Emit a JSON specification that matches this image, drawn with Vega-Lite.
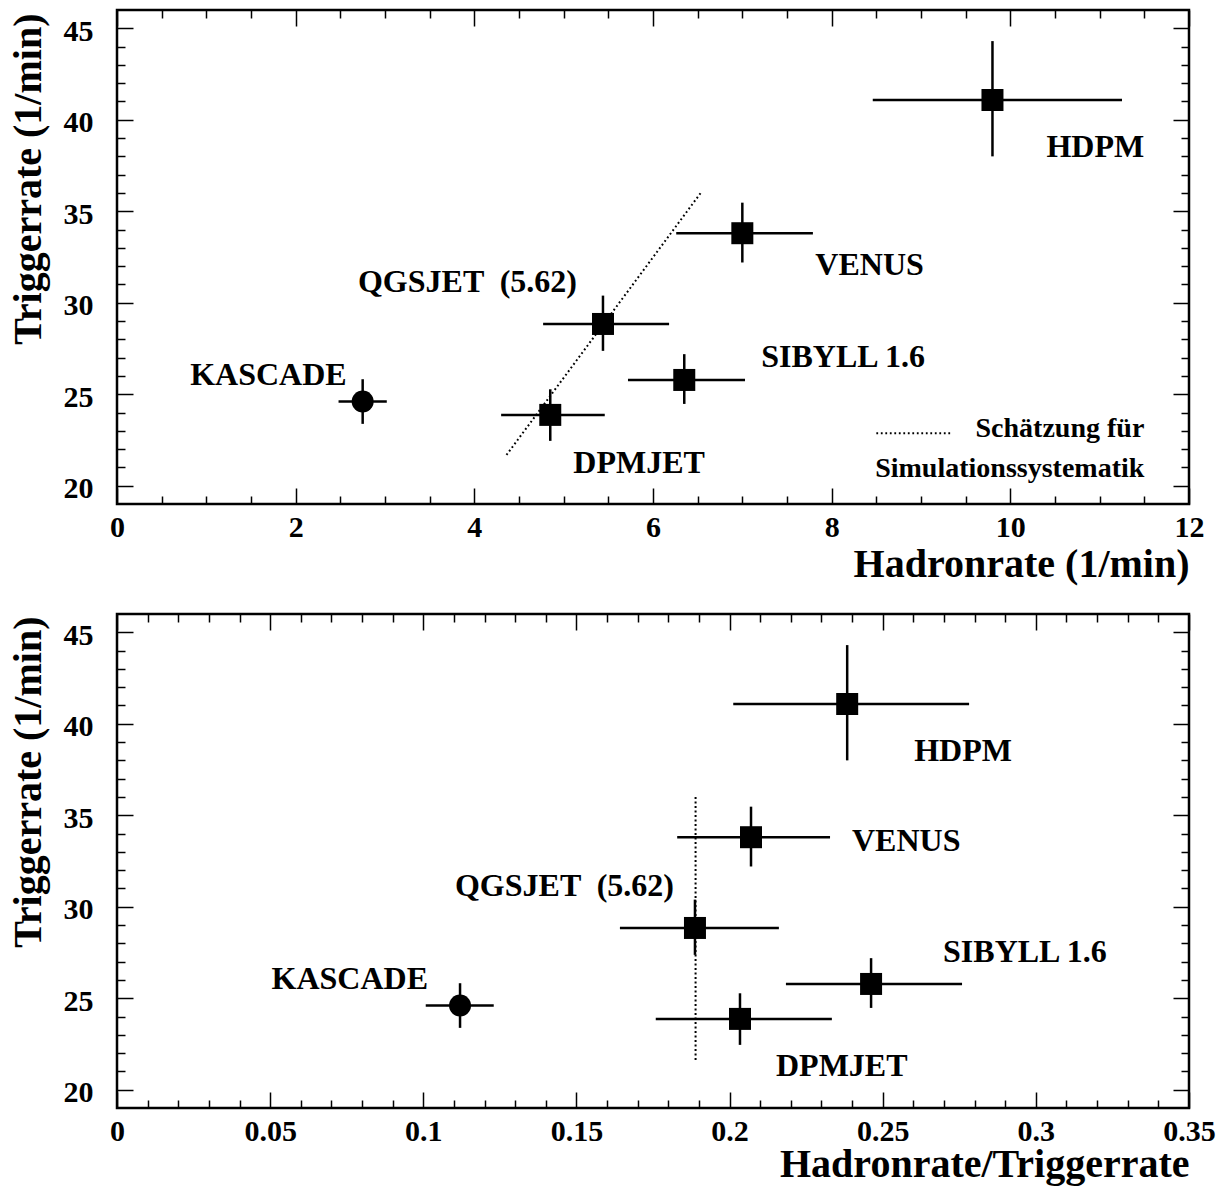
{
  "$schema": "https://vega.github.io/schema/vega-lite/v6.json",
  "padding": {"left": 6, "top": 8, "right": 5, "bottom": 5},
  "bounds": "flush",
  "spacing": 110,
  "datasets": {
    "models": [
      {"model": "KASCADE", "label": "KASCADE", "kind": "circle", "hadron": 2.75, "hadronLo": 2.48, "hadronHi": 3.02, "trigger": 24.6, "triggerLo": 23.38, "triggerHi": 25.82, "ratio": 0.112, "ratioLo": 0.1008, "ratioHi": 0.123},
      {"model": "DPMJET", "label": "DPMJET", "kind": "square", "hadron": 4.85, "hadronLo": 4.3, "hadronHi": 5.46, "trigger": 23.87, "triggerLo": 22.45, "triggerHi": 25.27, "ratio": 0.2034, "ratioLo": 0.1759, "ratioHi": 0.2334},
      {"model": "QGSJET", "label": "QGSJET \u00a0(5.62)", "kind": "square", "hadron": 5.44, "hadronLo": 4.77, "hadronHi": 6.18, "trigger": 28.84, "triggerLo": 27.37, "triggerHi": 30.39, "ratio": 0.1887, "ratioLo": 0.1642, "ratioHi": 0.2161},
      {"model": "SIBYLL", "label": "SIBYLL 1.6", "kind": "square", "hadron": 6.35, "hadronLo": 5.72, "hadronHi": 7.03, "trigger": 25.78, "triggerLo": 24.47, "triggerHi": 27.19, "ratio": 0.2462, "ratioLo": 0.2184, "ratioHi": 0.2759},
      {"model": "VENUS", "label": "VENUS", "kind": "square", "hadron": 7.0, "hadronLo": 6.26, "hadronHi": 7.79, "trigger": 33.8, "triggerLo": 32.2, "triggerHi": 35.47, "ratio": 0.207, "ratioLo": 0.1829, "ratioHi": 0.2328},
      {"model": "HDPM", "label": "HDPM", "kind": "square", "hadron": 9.8, "hadronLo": 8.46, "hadronHi": 11.25, "trigger": 41.08, "triggerLo": 38.0, "triggerHi": 44.3, "ratio": 0.2384, "ratioLo": 0.2012, "ratioHi": 0.2782}
    ],
    "systHadron": [
      {"hadronLo": 4.36, "hadronHi": 6.54, "triggerLo": 21.68, "triggerHi": 36.04}
    ],
    "systRatio": [
      {"ratio": 0.1889, "triggerLo": 21.63, "triggerHi": 36.02}
    ]
  },
  "config": {
    "view": {"stroke": "black", "strokeWidth": 2.5},
    "font": "Liberation Serif",
    "axis": {
      "grid": false,
      "domain": false,
      "labelFont": "Liberation Serif",
      "labelFontWeight": "bold",
      "labelFontSize": 30,
      "labelColor": "black",
      "labelFlush": false,
      "labelOverlap": false,
      "labelBound": false,
      "tickColor": "black",
      "tickWidth": 1.5,
      "titleFont": "Liberation Serif",
      "titleFontWeight": "bold",
      "titleFontSize": 40,
      "titleColor": "black"
    },
    "text": {"font": "Liberation Serif", "fontWeight": "bold", "fontSize": 32, "color": "black"}
  },
  "vconcat": [
    {
      "width": 1072,
      "height": 494,
      "resolve": {"axis": {"x": "independent", "y": "independent"}},
      "layer": [
        {
          "data": {"name": "models"},
          "mark": {"type": "rule", "color": "black", "strokeWidth": 2.5},
          "encoding": {
            "x": {"field": "hadronLo", "type": "quantitative", "scale": {"domain": [0, 12], "nice": false, "zero": false},
              "axis": {"orient": "bottom", "values": [0, 2, 4, 6, 8, 10, 12], "format": "~g", "ticks": false, "labelPadding": 32, "labelBaseline": "alphabetic",
                "title": "Hadronrate (1/min)", "titleX": 1072, "titleY": 72, "titleAlign": "right", "titleBaseline": "alphabetic", "titleAngle": 0}},
            "x2": {"field": "hadronHi"},
            "y": {"field": "trigger", "type": "quantitative", "scale": {"domain": [19, 46], "nice": false, "zero": false},
              "axis": {"orient": "left", "values": [20, 25, 30, 35, 40, 45], "ticks": false, "labelPadding": 24, "labelAlign": "right", "labelBaseline": "middle", "labelOffset": 3,
                "title": "Triggerrate (1/min)", "titleX": -77, "titleY": 3, "titleAngle": -90, "titleAlign": "right", "titleBaseline": "alphabetic"}}
          }
        },
        {
          "data": {"name": "models"},
          "mark": {"type": "rule", "color": "black", "strokeWidth": 2.5},
          "encoding": {
            "x": {"field": "hadron", "type": "quantitative", "scale": {"domain": [0, 12], "nice": false, "zero": false},
              "axis": {"orient": "bottom", "values": [0, 2, 4, 6, 8, 10, 12], "labels": false, "tickSize": -16, "title": null}},
            "y": {"field": "triggerLo", "type": "quantitative", "scale": {"domain": [19, 46], "nice": false, "zero": false},
              "axis": {"orient": "left", "values": [20, 25, 30, 35, 40, 45], "labels": false, "tickSize": -16, "title": null}},
            "y2": {"field": "triggerHi"}
          }
        },
        {
          "data": {"name": "models"},
          "transform": [{"filter": "datum.kind === 'square'"}],
          "mark": {"type": "point", "shape": "square", "filled": true, "size": 484, "color": "black", "opacity": 1},
          "encoding": {
            "x": {"field": "hadron", "type": "quantitative", "scale": {"domain": [0, 12], "nice": false, "zero": false},
              "axis": {"orient": "bottom", "values": [0.5, 1, 1.5, 2.5, 3, 3.5, 4.5, 5, 5.5, 6.5, 7, 7.5, 8.5, 9, 9.5, 10.5, 11, 11.5], "labels": false, "tickSize": -8, "title": null}},
            "y": {"field": "trigger", "type": "quantitative", "scale": {"domain": [19, 46], "nice": false, "zero": false},
              "axis": {"orient": "left", "values": [21, 22, 23, 24, 26, 27, 28, 29, 31, 32, 33, 34, 36, 37, 38, 39, 41, 42, 43, 44], "labels": false, "tickSize": -8, "title": null}}
          }
        },
        {
          "data": {"name": "models"},
          "transform": [{"filter": "datum.kind === 'circle'"}],
          "mark": {"type": "point", "shape": "circle", "filled": true, "size": 484, "color": "black", "opacity": 1},
          "encoding": {
            "x": {"field": "hadron", "type": "quantitative", "scale": {"domain": [0, 12], "nice": false, "zero": false},
              "axis": {"orient": "top", "values": [0, 2, 4, 6, 8, 10, 12], "labels": false, "tickSize": -16, "title": null}},
            "y": {"field": "trigger", "type": "quantitative", "scale": {"domain": [19, 46], "nice": false, "zero": false},
              "axis": {"orient": "right", "values": [20, 25, 30, 35, 40, 45], "labels": false, "tickSize": -16, "title": null}}
          }
        },
        {
          "data": {"name": "systHadron"},
          "mark": {"type": "rule", "color": "black", "strokeWidth": 2, "strokeDash": [1.8, 2.7]},
          "encoding": {
            "x": {"field": "hadronLo", "type": "quantitative", "scale": {"domain": [0, 12], "nice": false, "zero": false},
              "axis": {"orient": "top", "values": [0.5, 1, 1.5, 2.5, 3, 3.5, 4.5, 5, 5.5, 6.5, 7, 7.5, 8.5, 9, 9.5, 10.5, 11, 11.5], "labels": false, "tickSize": -8, "title": null}},
            "x2": {"field": "hadronHi"},
            "y": {"field": "triggerLo", "type": "quantitative", "scale": {"domain": [19, 46], "nice": false, "zero": false},
              "axis": {"orient": "right", "values": [21, 22, 23, 24, 26, 27, 28, 29, 31, 32, 33, 34, 36, 37, 38, 39, 41, 42, 43, 44], "labels": false, "tickSize": -8, "title": null}},
            "y2": {"field": "triggerHi"}
          }
        },
        {
          "data": {"values": [{}]},
          "mark": {"type": "rule", "color": "black", "strokeWidth": 2, "strokeDash": [1.8, 2.7]},
          "encoding": {
            "x": {"datum": 8.5, "type": "quantitative", "scale": {"domain": [0, 12], "nice": false, "zero": false}, "axis": null},
            "x2": {"datum": 9.34},
            "y": {"datum": 22.87, "type": "quantitative", "scale": {"domain": [19, 46], "nice": false, "zero": false}, "axis": null}
          }
        },
        {
          "data": {"values": [{}]},
          "mark": {"type": "text", "align": "right", "baseline": "alphabetic", "fontSize": 28, "lineHeight": 40, "text": ["Schätzung für", "Simulationssystematik"]},
          "encoding": {
            "x": {"datum": 11.5, "type": "quantitative", "scale": {"domain": [0, 12], "nice": false, "zero": false}, "axis": null},
            "y": {"datum": 22.68, "type": "quantitative", "scale": {"domain": [19, 46], "nice": false, "zero": false}, "axis": null}
          }
        },
        {
          "data": {"name": "models"},
          "transform": [{"filter": "datum.model === 'KASCADE'"}],
          "mark": {"type": "text", "align": "right", "baseline": "alphabetic", "dx": -16, "dy": -17},
          "encoding": {
            "x": {"field": "hadron", "type": "quantitative", "scale": {"domain": [0, 12], "nice": false, "zero": false}, "axis": null},
            "y": {"field": "trigger", "type": "quantitative", "scale": {"domain": [19, 46], "nice": false, "zero": false}, "axis": null},
            "text": {"field": "label"}
          }
        },
        {
          "data": {"name": "models"},
          "transform": [{"filter": "datum.model === 'QGSJET'"}],
          "mark": {"type": "text", "align": "left", "baseline": "alphabetic", "dx": -245, "dy": -32},
          "encoding": {
            "x": {"field": "hadron", "type": "quantitative", "scale": {"domain": [0, 12], "nice": false, "zero": false}, "axis": null},
            "y": {"field": "trigger", "type": "quantitative", "scale": {"domain": [19, 46], "nice": false, "zero": false}, "axis": null},
            "text": {"field": "label"}
          }
        },
        {
          "data": {"name": "models"},
          "transform": [{"filter": "datum.model === 'DPMJET'"}],
          "mark": {"type": "text", "align": "left", "baseline": "alphabetic", "dx": 23, "dy": 58},
          "encoding": {
            "x": {"field": "hadron", "type": "quantitative", "scale": {"domain": [0, 12], "nice": false, "zero": false}, "axis": null},
            "y": {"field": "trigger", "type": "quantitative", "scale": {"domain": [19, 46], "nice": false, "zero": false}, "axis": null},
            "text": {"field": "label"}
          }
        },
        {
          "data": {"name": "models"},
          "transform": [{"filter": "datum.model === 'SIBYLL'"}],
          "mark": {"type": "text", "align": "left", "baseline": "alphabetic", "dx": 77, "dy": -13},
          "encoding": {
            "x": {"field": "hadron", "type": "quantitative", "scale": {"domain": [0, 12], "nice": false, "zero": false}, "axis": null},
            "y": {"field": "trigger", "type": "quantitative", "scale": {"domain": [19, 46], "nice": false, "zero": false}, "axis": null},
            "text": {"field": "label"}
          }
        },
        {
          "data": {"name": "models"},
          "transform": [{"filter": "datum.model === 'VENUS'"}],
          "mark": {"type": "text", "align": "left", "baseline": "alphabetic", "dx": 73, "dy": 42},
          "encoding": {
            "x": {"field": "hadron", "type": "quantitative", "scale": {"domain": [0, 12], "nice": false, "zero": false}, "axis": null},
            "y": {"field": "trigger", "type": "quantitative", "scale": {"domain": [19, 46], "nice": false, "zero": false}, "axis": null},
            "text": {"field": "label"}
          }
        },
        {
          "data": {"name": "models"},
          "transform": [{"filter": "datum.model === 'HDPM'"}],
          "mark": {"type": "text", "align": "left", "baseline": "alphabetic", "dx": 54, "dy": 57},
          "encoding": {
            "x": {"field": "hadron", "type": "quantitative", "scale": {"domain": [0, 12], "nice": false, "zero": false}, "axis": null},
            "y": {"field": "trigger", "type": "quantitative", "scale": {"domain": [19, 46], "nice": false, "zero": false}, "axis": null},
            "text": {"field": "label"}
          }
        }
      ]
    },
    {
      "width": 1072,
      "height": 494,
      "resolve": {"axis": {"x": "independent", "y": "independent"}},
      "layer": [
        {
          "data": {"name": "models"},
          "mark": {"type": "rule", "color": "black", "strokeWidth": 2.5},
          "encoding": {
            "x": {"field": "ratioLo", "type": "quantitative", "scale": {"domain": [0, 0.35], "nice": false, "zero": false},
              "axis": {"orient": "bottom", "values": [0, 0.05, 0.1, 0.15, 0.2, 0.25, 0.3, 0.35], "format": "~g", "ticks": false, "labelPadding": 32, "labelBaseline": "alphabetic",
                "title": "Hadronrate/Triggerrate", "titleX": 1072, "titleY": 68, "titleAlign": "right", "titleBaseline": "alphabetic", "titleAngle": 0}},
            "x2": {"field": "ratioHi"},
            "y": {"field": "trigger", "type": "quantitative", "scale": {"domain": [19, 46], "nice": false, "zero": false},
              "axis": {"orient": "left", "values": [20, 25, 30, 35, 40, 45], "ticks": false, "labelPadding": 24, "labelAlign": "right", "labelBaseline": "middle", "labelOffset": 3,
                "title": "Triggerrate (1/min)", "titleX": -77, "titleY": 2, "titleAngle": -90, "titleAlign": "right", "titleBaseline": "alphabetic"}}
          }
        },
        {
          "data": {"name": "models"},
          "mark": {"type": "rule", "color": "black", "strokeWidth": 2.5},
          "encoding": {
            "x": {"field": "ratio", "type": "quantitative", "scale": {"domain": [0, 0.35], "nice": false, "zero": false},
              "axis": {"orient": "bottom", "values": [0, 0.05, 0.1, 0.15, 0.2, 0.25, 0.3, 0.35], "labels": false, "tickSize": -16, "title": null}},
            "y": {"field": "triggerLo", "type": "quantitative", "scale": {"domain": [19, 46], "nice": false, "zero": false},
              "axis": {"orient": "left", "values": [20, 25, 30, 35, 40, 45], "labels": false, "tickSize": -16, "title": null}},
            "y2": {"field": "triggerHi"}
          }
        },
        {
          "data": {"name": "models"},
          "transform": [{"filter": "datum.kind === 'square'"}],
          "mark": {"type": "point", "shape": "square", "filled": true, "size": 484, "color": "black", "opacity": 1},
          "encoding": {
            "x": {"field": "ratio", "type": "quantitative", "scale": {"domain": [0, 0.35], "nice": false, "zero": false},
              "axis": {"orient": "bottom", "values": [0.01, 0.02, 0.03, 0.04, 0.06, 0.07, 0.08, 0.09, 0.11, 0.12, 0.13, 0.14, 0.16, 0.17, 0.18, 0.19, 0.21, 0.22, 0.23, 0.24, 0.26, 0.27, 0.28, 0.29, 0.31, 0.32, 0.33, 0.34], "labels": false, "tickSize": -8, "title": null}},
            "y": {"field": "trigger", "type": "quantitative", "scale": {"domain": [19, 46], "nice": false, "zero": false},
              "axis": {"orient": "left", "values": [21, 22, 23, 24, 26, 27, 28, 29, 31, 32, 33, 34, 36, 37, 38, 39, 41, 42, 43, 44], "labels": false, "tickSize": -8, "title": null}}
          }
        },
        {
          "data": {"name": "models"},
          "transform": [{"filter": "datum.kind === 'circle'"}],
          "mark": {"type": "point", "shape": "circle", "filled": true, "size": 484, "color": "black", "opacity": 1},
          "encoding": {
            "x": {"field": "ratio", "type": "quantitative", "scale": {"domain": [0, 0.35], "nice": false, "zero": false},
              "axis": {"orient": "top", "values": [0, 0.05, 0.1, 0.15, 0.2, 0.25, 0.3, 0.35], "labels": false, "tickSize": -16, "title": null}},
            "y": {"field": "trigger", "type": "quantitative", "scale": {"domain": [19, 46], "nice": false, "zero": false},
              "axis": {"orient": "right", "values": [20, 25, 30, 35, 40, 45], "labels": false, "tickSize": -16, "title": null}}
          }
        },
        {
          "data": {"name": "systRatio"},
          "mark": {"type": "rule", "color": "black", "strokeWidth": 2, "strokeDash": [1.8, 2.7]},
          "encoding": {
            "x": {"field": "ratio", "type": "quantitative", "scale": {"domain": [0, 0.35], "nice": false, "zero": false},
              "axis": {"orient": "top", "values": [0.01, 0.02, 0.03, 0.04, 0.06, 0.07, 0.08, 0.09, 0.11, 0.12, 0.13, 0.14, 0.16, 0.17, 0.18, 0.19, 0.21, 0.22, 0.23, 0.24, 0.26, 0.27, 0.28, 0.29, 0.31, 0.32, 0.33, 0.34], "labels": false, "tickSize": -8, "title": null}},
            "y": {"field": "triggerLo", "type": "quantitative", "scale": {"domain": [19, 46], "nice": false, "zero": false},
              "axis": {"orient": "right", "values": [21, 22, 23, 24, 26, 27, 28, 29, 31, 32, 33, 34, 36, 37, 38, 39, 41, 42, 43, 44], "labels": false, "tickSize": -8, "title": null}},
            "y2": {"field": "triggerHi"}
          }
        },
        {
          "data": {"name": "models"},
          "transform": [{"filter": "datum.model === 'KASCADE'"}],
          "mark": {"type": "text", "align": "right", "baseline": "alphabetic", "dx": -32, "dy": -17},
          "encoding": {
            "x": {"field": "ratio", "type": "quantitative", "scale": {"domain": [0, 0.35], "nice": false, "zero": false}, "axis": null},
            "y": {"field": "trigger", "type": "quantitative", "scale": {"domain": [19, 46], "nice": false, "zero": false}, "axis": null},
            "text": {"field": "label"}
          }
        },
        {
          "data": {"name": "models"},
          "transform": [{"filter": "datum.model === 'QGSJET'"}],
          "mark": {"type": "text", "align": "left", "baseline": "alphabetic", "dx": -240, "dy": -32},
          "encoding": {
            "x": {"field": "ratio", "type": "quantitative", "scale": {"domain": [0, 0.35], "nice": false, "zero": false}, "axis": null},
            "y": {"field": "trigger", "type": "quantitative", "scale": {"domain": [19, 46], "nice": false, "zero": false}, "axis": null},
            "text": {"field": "label"}
          }
        },
        {
          "data": {"name": "models"},
          "transform": [{"filter": "datum.model === 'DPMJET'"}],
          "mark": {"type": "text", "align": "left", "baseline": "alphabetic", "dx": 36, "dy": 57},
          "encoding": {
            "x": {"field": "ratio", "type": "quantitative", "scale": {"domain": [0, 0.35], "nice": false, "zero": false}, "axis": null},
            "y": {"field": "trigger", "type": "quantitative", "scale": {"domain": [19, 46], "nice": false, "zero": false}, "axis": null},
            "text": {"field": "label"}
          }
        },
        {
          "data": {"name": "models"},
          "transform": [{"filter": "datum.model === 'SIBYLL'"}],
          "mark": {"type": "text", "align": "left", "baseline": "alphabetic", "dx": 72, "dy": -22},
          "encoding": {
            "x": {"field": "ratio", "type": "quantitative", "scale": {"domain": [0, 0.35], "nice": false, "zero": false}, "axis": null},
            "y": {"field": "trigger", "type": "quantitative", "scale": {"domain": [19, 46], "nice": false, "zero": false}, "axis": null},
            "text": {"field": "label"}
          }
        },
        {
          "data": {"name": "models"},
          "transform": [{"filter": "datum.model === 'VENUS'"}],
          "mark": {"type": "text", "align": "left", "baseline": "alphabetic", "dx": 101, "dy": 14},
          "encoding": {
            "x": {"field": "ratio", "type": "quantitative", "scale": {"domain": [0, 0.35], "nice": false, "zero": false}, "axis": null},
            "y": {"field": "trigger", "type": "quantitative", "scale": {"domain": [19, 46], "nice": false, "zero": false}, "axis": null},
            "text": {"field": "label"}
          }
        },
        {
          "data": {"name": "models"},
          "transform": [{"filter": "datum.model === 'HDPM'"}],
          "mark": {"type": "text", "align": "left", "baseline": "alphabetic", "dx": 67, "dy": 57},
          "encoding": {
            "x": {"field": "ratio", "type": "quantitative", "scale": {"domain": [0, 0.35], "nice": false, "zero": false}, "axis": null},
            "y": {"field": "trigger", "type": "quantitative", "scale": {"domain": [19, 46], "nice": false, "zero": false}, "axis": null},
            "text": {"field": "label"}
          }
        }
      ]
    }
  ]
}
